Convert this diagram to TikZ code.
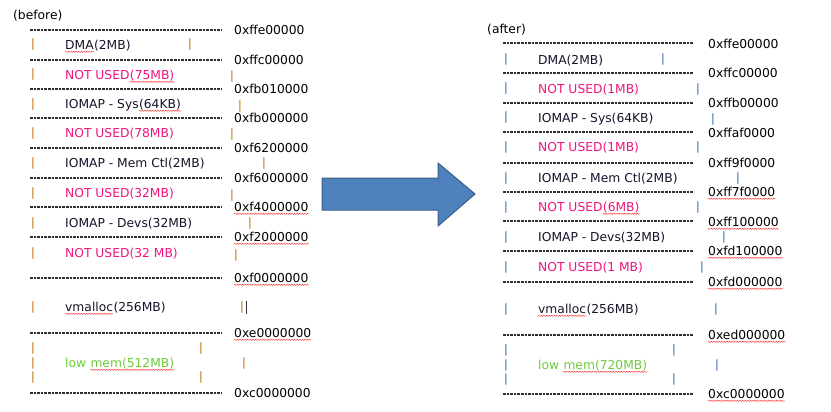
\documentclass[tikz,border=0pt]{standalone}
\usepackage{fontspec}
\setmainfont{DejaVu Sans}
\usetikzlibrary{decorations.pathmorphing}
\definecolor{txtdark}{HTML}{14142A}
\definecolor{magen}{HTML}{F0147C}
\definecolor{lgreen}{HTML}{6CCC3A}
\definecolor{pipeor}{HTML}{D09040}
\definecolor{pipebl}{HTML}{5B8FC7}
\definecolor{dashc}{HTML}{303030}
\definecolor{arrfill}{HTML}{4F81BD}
\definecolor{arrline}{HTML}{385D8A}
\tikzset{
  txt/.style={anchor=base west, inner sep=0pt, font=\fontsize{12.3}{14}\selectfont, text=txtdark},
  addr/.style={txt, text=black},
  nu/.style={txt, text=magen},
  lm/.style={txt, text=lgreen},
  pipeL/.style={anchor=base, inner sep=0pt, font=\fontsize{11.5}{12}\selectfont\bfseries, text=pipeor},
  pipeR/.style={pipeL, text=pipebl},
  dashline/.style={draw=dashc, line width=1.1pt, dash pattern=on 2.5pt off 1.1pt},
  squig/.style={draw=red!80, line width=0.45pt, decorate, decoration={snake, amplitude=0.6pt, segment length=2.6pt}},
  bigarrow/.style={fill=arrfill, draw=arrline, line width=1pt, line join=miter}
}
\newcommand{\squnder}[1]{\draw[squig] ([yshift=-2.4pt]#1.base west) -- ([yshift=-2.4pt]#1.base east);}
\begin{document}
\begin{tikzpicture}[x=1pt,y=-1pt]
\useasboundingbox (0,0) rectangle (831,412);

% ---------------- before ----------------
\node[addr] (before) at (13,19.4) {(before)};
\foreach \yy/\lab [count=\i] in {30/0xffe00000,60/0xffc00000,89/0xfb010000,118/0xfb000000,148/0xf6200000,178/0xf6000000,207/0xf4000000,237/0xf2000000,278/0xf0000000,333/0xe0000000,393/0xc0000000}{
  \coordinate (Ls\i) at (30,\yy);
  \coordinate (Le\i) at (222,\yy);
  \draw[dashline] (Ls\i) -- (Le\i);
  \node[addr] (La\i) at (234,\yy+4.4) {\lab};
}
\foreach \i in {7,8,9,10}{\squnder{La\i}}

\node[txt] (L1a) at (65,49.4) {DMA};
\node[txt] (L1b) at (L1a.base east) {(2MB)};
\node[nu] (L2a) at (65,79.4) {NOT USED};
\node[nu] (L2b) at (L2a.base east) {(75MB)};
\node[txt] (L3a) at (65,108.4) {IOMAP - Sys};
\node[txt] (L3b) at (L3a.base east) {(64KB)};
\node[nu] (L4) at (65,137.4) {NOT USED(78MB)};
\node[txt] (L5) at (65,167.4) {IOMAP - Mem Ctl(2MB)};
\node[nu] (L6) at (65,197.4) {NOT USED(32MB)};
\node[txt] (L7) at (65,227.4) {IOMAP - Devs(32MB)};
\node[nu] (L8) at (65,257.4) {NOT USED(32 MB)};
\node[txt] (L9a) at (65,311.4) {vmalloc};
\node[txt] (L9b) at (L9a.base east) {(256MB)};
\node[lm] (L10a) at (65,367.4) {low};
\node[lm] (L10b) at ([xshift=3.9pt]L10a.base east) {mem(512MB)};
\squnder{L1a}\squnder{L2b}\squnder{L3b}\squnder{L9a}\squnder{L10b}

\foreach \px/\py [count=\i] in {33/45,190/45,33/75,232/77,33/104,240/107,33/133,232/135,33/163,264/164,33/193,232/195,33/223,250/223,33/253,236/255,33/307,242/307,33/348,201/348,33/363,244/363,33/377,201/377}{
  \node[pipeL] (Lp\i) at (\px,\py+3) {|};
}
\coordinate (cur1) at (246.5,300.5);
\coordinate (cur2) at (246.5,313.5);
\draw[line width=1.3pt, draw=dashc] (cur1) -- (cur2);

% ---------------- arrow ----------------
\coordinate (A1) at (322,178);
\coordinate (A2) at (438,178);
\coordinate (A3) at (438,163);
\coordinate (A4) at (475,194);
\coordinate (A5) at (438,226);
\coordinate (A6) at (438,210);
\coordinate (A7) at (322,210);
\draw[bigarrow] (A1) -- (A2) -- (A3) -- (A4) -- (A5) -- (A6) -- (A7) -- cycle;

% ---------------- after ----------------
\node[addr] (after) at (487,33.4) {(after)};
\foreach \yy/\ly/\lab [count=\i] in {43/44/0xffe00000,73/73/0xffc00000,103/103/0xffb00000,132/133/0xffaf0000,163/163/0xff9f0000,192/192/0xff7f0000,221/222/0xff100000,251/251/0xfd100000,282/282/0xfd000000,335/335/0xed000000,394/394/0xc0000000}{
  \coordinate (Rs\i) at (503,\yy);
  \coordinate (Re\i) at (693,\yy);
  \draw[dashline] (Rs\i) -- (Re\i);
  \node[addr] (Ra\i) at (708,\ly+4.4) {\lab};
}
\foreach \i in {6,7,8,9,10,11}{\squnder{Ra\i}}

\node[txt] (R1) at (538,64.4) {DMA(2MB)};
\node[nu] (R2) at (538,93.4) {NOT USED(1MB)};
\node[txt] (R3) at (538,122.4) {IOMAP - Sys(64KB)};
\node[nu] (R4) at (538,151.4) {NOT USED(1MB)};
\node[txt] (R5) at (538,182.4) {IOMAP - Mem Ctl(2MB)};
\node[nu] (R6a) at (538,211.4) {NOT USED};
\node[nu] (R6b) at (R6a.base east) {(6MB)};
\node[txt] (R7) at (538,241.4) {IOMAP - Devs(32MB)};
\node[nu] (R8) at (538,271.4) {NOT USED(1 MB)};
\node[txt] (R9a) at (538,313.4) {vmalloc};
\node[txt] (R9b) at (R9a.base east) {(256MB)};
\node[lm] (R10a) at (538,369.4) {low};
\node[lm] (R10b) at ([xshift=3.9pt]R10a.base east) {mem(720MB)};
\squnder{R6b}\squnder{R9a}\squnder{R10b}

\foreach \px/\py [count=\i] in {506/60,663/60,506/89,698/90,506/118,713/120,506/147,698/147,506/178,738/179,506/207,698/207,506/237,724/237,506/267,702/267,506/309,716/309,506/350,674/350,506/365,717/365,506/379,674/379}{
  \node[pipeR] (Rp\i) at (\px,\py+3) {|};
}
\end{tikzpicture}
\end{document}
